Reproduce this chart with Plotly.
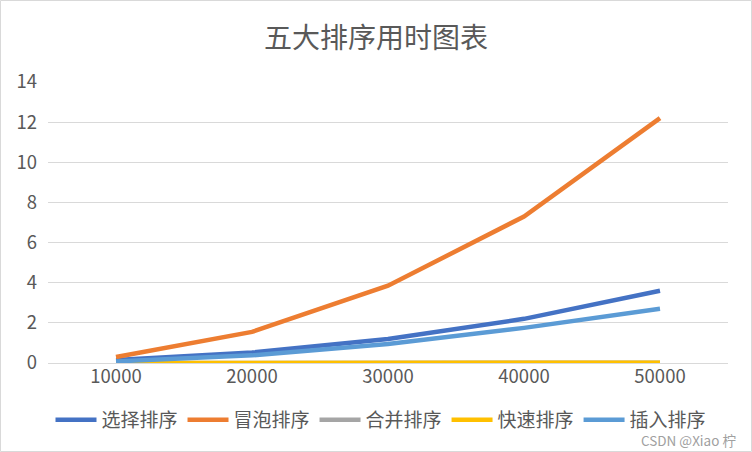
import plotly.graph_objects as go

categories = ["10000", "20000", "30000", "40000", "50000"]
selection = [0.15, 0.52, 1.2, 2.2, 3.6]
bubble = [0.3, 1.55, 3.85, 7.3, 12.2]
merge = [0.003, 0.006, 0.009, 0.012, 0.015]
quick = [0.002, 0.004, 0.006, 0.008, 0.01]
insert = [0.08, 0.38, 0.95, 1.75, 2.7]

names = ["选择排序", "冒泡排序", "合并排序", "快速排序", "插入排序"]
colors = ["#4472C4", "#ED7D31", "#A5A5A5", "#FFC000", "#5B9BD5"]
series = [selection, bubble, merge, quick, insert]

font_family = "Noto Sans CJK SC, DejaVu Sans, sans-serif"

fig = go.Figure()
for n, c, s in zip(names, colors, series):
    fig.add_trace(go.Scatter(
        x=categories, y=s, name=n, mode="lines",
        line=dict(color=c, width=4.5),
    ))

W, H = 752, 452
L, R, T, B = 48, 24, 82, 89
pw, ph = W - L - R, H - T - B

fig.update_layout(
    width=W, height=H,
    margin=dict(l=L, r=R, t=T, b=B),
    paper_bgcolor="white", plot_bgcolor="white",
    font=dict(family=font_family, color="#595959", size=18),
    title=dict(text="五大排序用时图表", x=0.5, xanchor="center",
               y=1 - 38 / H, yanchor="middle",
               font=dict(size=28, color="#595959", family=font_family)),
    showlegend=True,
    legend=dict(orientation="h", x=(381 - L) / pw, xanchor="center",
                y=-(420 - 363) / ph, yanchor="middle",
                font=dict(size=19, color="#595959", family=font_family),
                itemwidth=41, tracegroupgap=0),
    xaxis=dict(type="category", range=[-0.5, 4.5], showgrid=False,
               showline=False, ticks="", tickfont=dict(size=18.5, color="#595959"),
               fixedrange=True),
    yaxis=dict(range=[0, 14], dtick=2, showgrid=True, gridcolor="#D9D9D9",
               gridwidth=1, zeroline=True, zerolinecolor="#D9D9D9", zerolinewidth=1,
               showline=False, ticks="", ticklabelstandoff=10,
               tickfont=dict(size=18.5, color="#595959"), fixedrange=True),
    shapes=[dict(type="rect", xref="paper", yref="paper",
                 x0=(0.5 - L) / pw, x1=(W - 0.5 - L) / pw,
                 y0=-(B - 0.5) / ph, y1=1 + (T - 0.5) / ph,
                 line=dict(color="#D9D9D9", width=1), fillcolor="rgba(0,0,0,0)")],
    annotations=[dict(text="CSDN @Xiao 柠", xref="paper", yref="paper",
                      x=(738 - L) / pw, y=-(440 - 363) / ph,
                      xanchor="right", yanchor="middle", showarrow=False,
                      font=dict(size=13.5, color="#A0A0A0", family=font_family))],
)

fig.write_html("out.html", config={"displayModeBar": False},
               post_script="document.body.style.margin='0';document.body.style.overflow='hidden';")
